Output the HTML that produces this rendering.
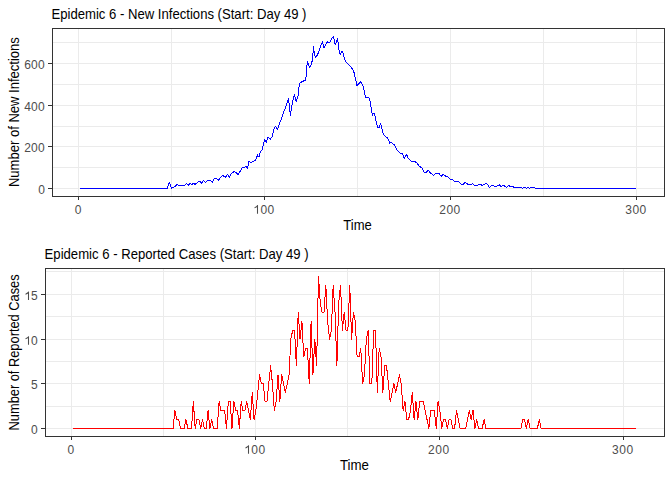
<!DOCTYPE html>
<html><head><meta charset="utf-8"><style>
html,body{margin:0;padding:0;background:#fff;}
svg{display:block;}
text{font-family:"Liberation Sans",sans-serif;}
</style></head><body>
<svg width="672" height="480" viewBox="0 0 672 480">
<rect width="672" height="480" fill="#fff"/>
<rect x="53" y="167" width="611" height="1" fill="#EBEBEB"/>
<rect x="53" y="126" width="611" height="1" fill="#EBEBEB"/>
<rect x="53" y="84" width="611" height="1" fill="#EBEBEB"/>
<rect x="53" y="42" width="611" height="1" fill="#EBEBEB"/>
<rect x="53" y="188" width="611" height="1" fill="#EBEBEB"/>
<rect x="53" y="146" width="611" height="1" fill="#EBEBEB"/>
<rect x="53" y="105" width="611" height="1" fill="#EBEBEB"/>
<rect x="53" y="63" width="611" height="1" fill="#EBEBEB"/>
<rect x="171" y="29" width="1" height="167" fill="#EBEBEB"/>
<rect x="357" y="29" width="1" height="167" fill="#EBEBEB"/>
<rect x="543" y="29" width="1" height="167" fill="#EBEBEB"/>
<rect x="78" y="29" width="1" height="167" fill="#EBEBEB"/>
<rect x="264" y="29" width="1" height="167" fill="#EBEBEB"/>
<rect x="450" y="29" width="1" height="167" fill="#EBEBEB"/>
<rect x="636" y="29" width="1" height="167" fill="#EBEBEB"/>
<path d="M80.26,188.40 L167.10,188.40 L167.14,188.39 L168.30,185.54 L169.46,182.14 L170.36,185.54 L171.43,188.39 L172.77,187.32 L174.29,186.88 L175.71,185.71 L177.23,184.20 L178.57,185.36 L184.38,185.36 L186.43,183.30 L188.21,185.54 L190.36,183.30 L191.96,184.46 L193.57,183.30 L195.09,184.46 L196.88,182.86 L198.66,181.25 L200.00,181.52 L201.61,183.30 L203.39,180.36 L205.54,182.41 L207.59,180.36 L210.00,180.36 L210.60,180.36 L212.38,182.14 L214.52,178.33 L216.55,178.57 L218.33,180.36 L222.50,175.24 L225.24,177.38 L227.62,174.40 L229.29,177.38 L231.19,173.81 L234.40,171.43 L236.19,172.86 L237.98,174.40 L240.00,171.43 L242.25,167.50 L244.75,167.25 L246.00,166.50 L247.50,168.12 L249.00,161.50 L250.62,162.50 L252.50,161.62 L254.75,160.62 L256.25,159.00 L257.50,155.00 L259.00,157.12 L260.00,152.75 L261.88,150.00 L262.75,147.50 L264.00,142.25 L264.75,139.75 L266.25,142.25 L268.12,136.88 L270.25,139.62 L272.25,136.25 L273.75,129.75 L275.25,126.50 L276.50,127.75 L277.25,130.00 L278.75,125.62 L280.00,121.88 L281.00,120.00 L283.23,113.33 L285.83,106.56 L288.44,98.54 L289.17,103.96 L290.31,115.42 L291.56,108.12 L292.60,101.35 L294.48,94.38 L296.25,101.67 L298.33,94.58 L298.85,88.33 L299.58,83.12 L300.94,82.29 L303.54,81.04 L305.62,80.00 L306.50,72.50 L307.25,61.25 L308.50,63.75 L309.38,67.25 L311.25,65.00 L312.50,59.38 L313.12,51.25 L313.50,46.25 L314.38,54.38 L315.62,57.25 L317.50,55.00 L319.75,48.75 L321.00,45.00 L322.50,41.50 L324.00,48.12 L325.62,44.38 L327.50,41.88 L329.75,42.75 L331.50,38.75 L333.50,36.25 L335.25,45.00 L337.50,38.50 L339.38,52.50 L340.25,54.25 L342.25,51.12 L343.12,53.62 L344.00,56.75 L345.25,60.75 L347.50,63.62 L350.00,66.12 L352.25,68.62 L353.75,71.12 L355.00,77.38 L356.00,81.12 L356.88,86.12 L358.50,84.00 L360.62,82.00 L362.25,84.50 L363.75,87.75 L364.75,94.38 L366.00,97.50 L367.50,97.50 L368.50,97.25 L369.75,99.38 L370.62,105.00 L371.50,110.00 L372.50,115.25 L373.50,113.50 L374.38,114.00 L375.25,116.88 L376.25,122.50 L377.50,126.88 L379.00,128.12 L380.62,123.75 L381.88,128.75 L383.12,133.75 L385.00,136.25 L386.88,137.50 L388.75,139.75 L389.38,143.12 L391.00,142.25 L392.50,143.50 L394.38,145.00 L396.25,148.75 L398.12,151.50 L400.62,153.50 L402.50,153.75 L404.38,158.50 L406.50,154.38 L408.12,158.12 L411.25,161.25 L415.00,161.50 L417.25,163.50 L419.38,166.25 L421.88,167.75 L424.38,172.50 L426.25,172.50 L428.12,170.25 L430.62,173.12 L433.50,175.25 L435.25,173.50 L439.00,173.50 L441.25,176.50 L443.12,174.38 L445.00,175.62 L445.36,176.19 L447.74,176.43 L450.12,179.17 L452.50,179.52 L454.29,181.55 L458.45,181.55 L461.43,184.52 L463.21,184.52 L465.24,182.38 L467.98,184.29 L471.55,184.52 L472.74,183.57 L474.52,185.48 L476.90,185.48 L478.69,184.52 L481.07,184.76 L482.26,185.48 L485.83,183.33 L487.62,184.52 L489.40,187.50 L491.79,185.48 L493.57,185.48 L494.76,186.31 L497.74,185.95 L499.52,184.76 L500.71,186.31 L503.69,185.48 L506.67,187.50 L508.45,185.48 L510.24,186.31 L512.62,186.31 L513.81,187.50 L520.00,187.50 L521.55,187.38 L522.74,188.45 L524.52,187.14 L526.31,188.45 L527.86,187.14 L529.52,188.45 L531.43,187.14 L534.64,187.14 L535.48,188.45 L636.40,188.40" fill="none" stroke="#0000FF" stroke-width="1" shape-rendering="crispEdges" stroke-linejoin="round"/>
<rect x="52" y="28" width="613" height="1" fill="#333333"/>
<rect x="52" y="196" width="613" height="1" fill="#333333"/>
<rect x="52" y="28" width="1" height="169" fill="#333333"/>
<rect x="664" y="28" width="1" height="169" fill="#333333"/>
<rect x="48" y="188" width="4" height="1" fill="#333333"/>
<rect x="48" y="146" width="4" height="1" fill="#333333"/>
<rect x="48" y="105" width="4" height="1" fill="#333333"/>
<rect x="48" y="63" width="4" height="1" fill="#333333"/>
<rect x="78" y="197" width="1" height="3" fill="#333333"/>
<rect x="264" y="197" width="1" height="3" fill="#333333"/>
<rect x="450" y="197" width="1" height="3" fill="#333333"/>
<rect x="636" y="197" width="1" height="3" fill="#333333"/>
<rect x="46" y="406" width="618" height="1" fill="#EBEBEB"/>
<rect x="46" y="361" width="618" height="1" fill="#EBEBEB"/>
<rect x="46" y="316" width="618" height="1" fill="#EBEBEB"/>
<rect x="46" y="271" width="618" height="1" fill="#EBEBEB"/>
<rect x="46" y="428" width="618" height="1" fill="#EBEBEB"/>
<rect x="46" y="383" width="618" height="1" fill="#EBEBEB"/>
<rect x="46" y="339" width="618" height="1" fill="#EBEBEB"/>
<rect x="46" y="294" width="618" height="1" fill="#EBEBEB"/>
<rect x="163" y="269" width="1" height="167" fill="#EBEBEB"/>
<rect x="347" y="269" width="1" height="167" fill="#EBEBEB"/>
<rect x="531" y="269" width="1" height="167" fill="#EBEBEB"/>
<rect x="71" y="269" width="1" height="167" fill="#EBEBEB"/>
<rect x="255" y="269" width="1" height="167" fill="#EBEBEB"/>
<rect x="439" y="269" width="1" height="167" fill="#EBEBEB"/>
<rect x="623" y="269" width="1" height="167" fill="#EBEBEB"/>
<path d="M73.24,428.40 L75.58,428.40 L77.42,428.40 L79.26,428.40 L81.10,428.40 L82.94,428.40 L84.78,428.40 L86.62,428.40 L88.46,428.40 L90.30,428.40 L92.14,428.40 L93.98,428.40 L95.82,428.40 L97.66,428.40 L99.50,428.40 L101.34,428.40 L103.18,428.40 L105.02,428.40 L106.86,428.40 L108.70,428.40 L110.54,428.40 L112.38,428.40 L114.22,428.40 L116.06,428.40 L117.90,428.40 L119.74,428.40 L121.58,428.40 L123.42,428.40 L125.26,428.40 L127.10,428.40 L128.94,428.40 L130.78,428.40 L132.62,428.40 L134.46,428.40 L136.30,428.40 L138.14,428.40 L139.98,428.40 L141.82,428.40 L143.66,428.40 L145.50,428.40 L147.34,428.40 L149.18,428.40 L151.02,428.40 L152.86,428.40 L154.70,428.40 L156.54,428.40 L158.38,428.40 L160.22,428.40 L162.06,428.40 L163.90,428.40 L165.74,428.40 L167.58,428.40 L169.42,428.40 L171.26,428.40 L173.10,428.40 L174.94,410.53 L176.78,419.47 L178.62,419.47 L180.46,428.40 L182.30,428.40 L184.14,428.40 L185.98,419.47 L187.82,428.40 L189.66,428.40 L191.50,428.40 L193.34,401.60 L195.18,428.40 L197.02,419.47 L198.86,419.47 L200.70,428.40 L202.54,419.47 L204.38,428.40 L206.22,428.40 L208.06,410.53 L209.90,428.40 L211.74,419.47 L213.58,428.40 L215.42,428.40 L217.26,428.40 L219.10,401.60 L220.94,410.53 L222.78,410.53 L224.62,410.53 L226.46,428.40 L228.30,401.60 L230.14,401.60 L231.98,428.40 L233.82,401.60 L235.66,410.53 L237.50,410.53 L239.34,428.40 L241.18,401.60 L243.02,410.53 L244.86,410.53 L246.70,401.60 L248.54,410.53 L250.38,419.47 L252.22,392.67 L254.06,419.47 L255.90,410.53 L257.74,392.67 L259.58,374.80 L261.42,383.73 L263.26,383.73 L265.10,401.60 L266.94,401.60 L268.78,383.73 L270.62,365.87 L272.46,383.73 L274.30,410.53 L276.14,401.60 L277.98,374.80 L279.82,401.60 L281.66,374.80 L283.50,383.73 L285.34,392.67 L287.18,383.73 L289.02,374.80 L290.86,339.07 L292.70,330.13 L294.54,330.13 L296.38,365.87 L298.22,312.27 L300.06,339.07 L301.90,321.20 L303.74,356.93 L305.58,348.00 L307.42,348.00 L309.26,383.73 L311.10,321.20 L312.94,374.80 L314.78,339.07 L316.62,365.87 L318.46,276.53 L320.30,303.33 L322.14,312.27 L323.98,312.27 L325.82,285.47 L327.66,321.20 L329.50,339.07 L331.34,330.13 L333.18,285.47 L335.02,312.27 L336.86,365.87 L338.70,303.33 L340.54,285.47 L342.38,330.13 L344.22,312.27 L346.06,330.13 L347.90,330.13 L349.74,285.47 L351.58,339.07 L353.42,312.27 L355.26,321.20 L357.10,356.93 L358.94,356.93 L360.78,348.00 L362.62,383.73 L364.46,374.80 L366.30,339.07 L368.14,330.13 L369.98,383.73 L371.82,383.73 L373.66,330.13 L375.50,330.13 L377.34,392.67 L379.18,348.00 L381.02,356.93 L382.86,392.67 L384.70,365.87 L386.54,365.87 L388.38,383.73 L390.22,401.60 L392.06,392.67 L393.90,383.73 L395.74,392.67 L397.58,383.73 L399.42,374.80 L401.26,383.73 L403.10,410.53 L404.94,401.60 L406.78,419.47 L408.62,419.47 L410.46,410.53 L412.30,392.67 L414.14,419.47 L415.98,401.60 L417.82,419.47 L419.66,401.60 L421.50,401.60 L423.34,401.60 L425.18,410.53 L427.02,419.47 L428.86,428.40 L430.70,410.53 L432.54,410.53 L434.38,410.53 L436.22,428.40 L438.06,401.60 L439.90,410.53 L441.74,428.40 L443.58,419.47 L445.42,419.47 L447.26,428.40 L449.10,419.47 L450.94,419.47 L452.78,428.40 L454.62,428.40 L456.46,410.53 L458.30,419.47 L460.14,428.40 L461.98,428.40 L463.82,428.40 L465.66,428.40 L467.50,419.47 L469.34,410.53 L471.18,419.47 L473.02,410.53 L474.86,428.40 L476.70,419.47 L478.54,428.40 L480.38,428.40 L482.22,428.40 L484.06,419.47 L485.90,428.40 L487.74,428.40 L489.58,428.40 L491.42,428.40 L493.26,428.40 L495.10,428.40 L496.94,428.40 L498.78,428.40 L500.62,428.40 L502.46,428.40 L504.30,428.40 L506.14,428.40 L507.98,428.40 L509.82,428.40 L511.66,428.40 L513.50,428.40 L515.34,428.40 L517.18,428.40 L519.02,428.40 L520.86,428.40 L522.70,419.47 L524.54,419.47 L526.38,428.40 L528.22,419.47 L530.06,428.40 L531.90,428.40 L533.74,428.40 L535.58,428.40 L537.42,428.40 L539.26,419.47 L541.10,428.40 L542.94,428.40 L544.78,428.40 L546.62,428.40 L548.46,428.40 L550.30,428.40 L552.14,428.40 L553.98,428.40 L555.82,428.40 L557.66,428.40 L559.50,428.40 L561.34,428.40 L563.18,428.40 L565.02,428.40 L566.86,428.40 L568.70,428.40 L570.54,428.40 L572.38,428.40 L574.22,428.40 L576.06,428.40 L577.90,428.40 L579.74,428.40 L581.58,428.40 L583.42,428.40 L585.26,428.40 L587.10,428.40 L588.94,428.40 L590.78,428.40 L592.62,428.40 L594.46,428.40 L596.30,428.40 L598.14,428.40 L599.98,428.40 L601.82,428.40 L603.66,428.40 L605.50,428.40 L607.34,428.40 L609.18,428.40 L611.02,428.40 L612.86,428.40 L614.70,428.40 L616.54,428.40 L618.38,428.40 L620.22,428.40 L622.06,428.40 L623.90,428.40 L625.74,428.40 L627.58,428.40 L629.42,428.40 L631.26,428.40 L633.10,428.40 L634.94,428.40 L636.28,428.40" fill="none" stroke="#FF0000" stroke-width="1" shape-rendering="crispEdges" stroke-linejoin="round"/>
<rect x="45" y="268" width="620" height="1" fill="#333333"/>
<rect x="45" y="436" width="620" height="1" fill="#333333"/>
<rect x="45" y="268" width="1" height="169" fill="#333333"/>
<rect x="664" y="268" width="1" height="169" fill="#333333"/>
<rect x="41" y="428" width="4" height="1" fill="#333333"/>
<rect x="41" y="383" width="4" height="1" fill="#333333"/>
<rect x="41" y="339" width="4" height="1" fill="#333333"/>
<rect x="41" y="294" width="4" height="1" fill="#333333"/>
<rect x="71" y="437" width="1" height="3" fill="#333333"/>
<rect x="255" y="437" width="1" height="3" fill="#333333"/>
<rect x="439" y="437" width="1" height="3" fill="#333333"/>
<rect x="623" y="437" width="1" height="3" fill="#333333"/>
<text x="38.33" y="194.10" font-size="12" fill="#4D4D4D">0</text>
<text x="24.15" y="152.43" font-size="12" fill="#4D4D4D">2</text>
<text x="31.10" y="152.43" font-size="12" fill="#4D4D4D">0</text>
<text x="38.05" y="152.43" font-size="12" fill="#4D4D4D">0</text>
<text x="24.15" y="110.77" font-size="12" fill="#4D4D4D">4</text>
<text x="31.10" y="110.77" font-size="12" fill="#4D4D4D">0</text>
<text x="38.05" y="110.77" font-size="12" fill="#4D4D4D">0</text>
<text x="24.15" y="69.10" font-size="12" fill="#4D4D4D">6</text>
<text x="31.10" y="69.10" font-size="12" fill="#4D4D4D">0</text>
<text x="38.05" y="69.10" font-size="12" fill="#4D4D4D">0</text>
<text x="74.66" y="213.70" font-size="12" fill="#4D4D4D">0</text>
<path d="M763,0 L583,0 L583,1147 Q500,1075 380,1010 Q260,950 160,925 L160,1104 Q340,1175 470,1276 Q599,1377 646,1472 L763,1472 Z" fill="#4D4D4D" transform="translate(253.56 213.70) scale(0.005859 -0.005859)"/>
<text x="260.40" y="213.70" font-size="12" fill="#4D4D4D">0</text>
<text x="267.60" y="213.70" font-size="12" fill="#4D4D4D">0</text>
<text x="439.19" y="213.70" font-size="12" fill="#4D4D4D">2</text>
<text x="446.40" y="213.70" font-size="12" fill="#4D4D4D">0</text>
<text x="453.60" y="213.70" font-size="12" fill="#4D4D4D">0</text>
<text x="625.19" y="213.70" font-size="12" fill="#4D4D4D">3</text>
<text x="632.40" y="213.70" font-size="12" fill="#4D4D4D">0</text>
<text x="639.60" y="213.70" font-size="12" fill="#4D4D4D">0</text>
<text x="30.93" y="434.10" font-size="12" fill="#4D4D4D">0</text>
<text x="30.93" y="389.43" font-size="12" fill="#4D4D4D">5</text>
<path d="M763,0 L583,0 L583,1147 Q500,1075 380,1010 Q260,950 160,925 L160,1104 Q340,1175 470,1276 Q599,1377 646,1472 L763,1472 Z" fill="#4D4D4D" transform="translate(24.56 344.77) scale(0.005859 -0.005859)"/>
<text x="30.93" y="344.77" font-size="12" fill="#4D4D4D">0</text>
<path d="M763,0 L583,0 L583,1147 Q500,1075 380,1010 Q260,950 160,925 L160,1104 Q340,1175 470,1276 Q599,1377 646,1472 L763,1472 Z" fill="#4D4D4D" transform="translate(24.56 300.10) scale(0.005859 -0.005859)"/>
<text x="30.93" y="300.10" font-size="12" fill="#4D4D4D">5</text>
<text x="67.56" y="453.80" font-size="12" fill="#4D4D4D">0</text>
<path d="M763,0 L583,0 L583,1147 Q500,1075 380,1010 Q260,950 160,925 L160,1104 Q340,1175 470,1276 Q599,1377 646,1472 L763,1472 Z" fill="#4D4D4D" transform="translate(244.56 453.80) scale(0.005859 -0.005859)"/>
<text x="251.30" y="453.80" font-size="12" fill="#4D4D4D">0</text>
<text x="258.50" y="453.80" font-size="12" fill="#4D4D4D">0</text>
<text x="428.09" y="453.80" font-size="12" fill="#4D4D4D">2</text>
<text x="435.30" y="453.80" font-size="12" fill="#4D4D4D">0</text>
<text x="442.50" y="453.80" font-size="12" fill="#4D4D4D">0</text>
<text x="612.09" y="453.80" font-size="12" fill="#4D4D4D">3</text>
<text x="619.30" y="453.80" font-size="12" fill="#4D4D4D">0</text>
<text x="626.50" y="453.80" font-size="12" fill="#4D4D4D">0</text>
<text x="51.5" y="19.0" font-size="14.5" fill="#000" text-anchor="start" textLength="255" lengthAdjust="spacingAndGlyphs">Epidemic 6 - New Infections (Start: Day 49 )</text>
<text x="44.6" y="259.1" font-size="14.5" fill="#000" text-anchor="start" textLength="264" lengthAdjust="spacingAndGlyphs">Epidemic 6 - Reported Cases (Start: Day 49 )</text>
<text x="357.6" y="230.2" font-size="14.5" fill="#000" text-anchor="middle" textLength="28.5" lengthAdjust="spacingAndGlyphs">Time</text>
<text x="354.5" y="469.9" font-size="14.5" fill="#000" text-anchor="middle" textLength="29" lengthAdjust="spacingAndGlyphs">Time</text>
<text x="19.0" y="112.1" font-size="14.5" fill="#000" text-anchor="middle" textLength="150" lengthAdjust="spacingAndGlyphs" transform="rotate(-90 19.0 112.1)">Number of New Infections</text>
<text x="19.0" y="352.4" font-size="14.5" fill="#000" text-anchor="middle" textLength="156" lengthAdjust="spacingAndGlyphs" transform="rotate(-90 19.0 352.4)">Number of Reported Cases</text>
</svg></body></html>
